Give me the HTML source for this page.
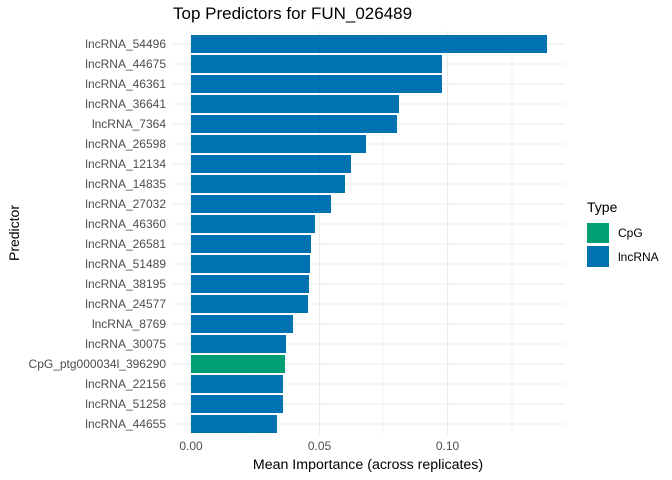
<!DOCTYPE html>
<html><head><meta charset="utf-8"><style>body{margin:0;background:#fff}svg{display:block}text{font-family:"Liberation Sans",sans-serif}</style></head><body>
<svg width="672" height="480" xmlns="http://www.w3.org/2000/svg">
<rect width="672" height="480" fill="#fff"/>
<g stroke="#ebebeb" stroke-width="0.6">
<line x1="255" y1="31" x2="255" y2="434"/><line x1="383" y1="31" x2="383" y2="434"/><line x1="512" y1="31" x2="512" y2="434"/>
</g>
<g stroke="#ebebeb" stroke-width="1.1">
<line x1="191" y1="31" x2="191" y2="434"/><line x1="319.5" y1="31" x2="319.5" y2="434"/><line x1="447.5" y1="31" x2="447.5" y2="434"/>
<line x1="173" y1="44" x2="565" y2="44"/><line x1="173" y1="64" x2="565" y2="64"/><line x1="173" y1="84" x2="565" y2="84"/><line x1="173" y1="104" x2="565" y2="104"/><line x1="173" y1="124" x2="565" y2="124"/><line x1="173" y1="144" x2="565" y2="144"/><line x1="173" y1="164" x2="565" y2="164"/><line x1="173" y1="184" x2="565" y2="184"/><line x1="173" y1="204" x2="565" y2="204"/><line x1="173" y1="224" x2="565" y2="224"/><line x1="173" y1="244" x2="565" y2="244"/><line x1="173" y1="264" x2="565" y2="264"/><line x1="173" y1="284" x2="565" y2="284"/><line x1="173" y1="304" x2="565" y2="304"/><line x1="173" y1="324" x2="565" y2="324"/><line x1="173" y1="344" x2="565" y2="344"/><line x1="173" y1="364" x2="565" y2="364"/><line x1="173" y1="384" x2="565" y2="384"/><line x1="173" y1="404" x2="565" y2="404"/><line x1="173" y1="424" x2="565" y2="424"/>
</g>
<g fill="#0072b2">
<rect x="191" y="35" width="356" height="18"/>
<rect x="191" y="55" width="251" height="18"/>
<rect x="191" y="75" width="251" height="18"/>
<rect x="191" y="95" width="208" height="18"/>
<rect x="191" y="115" width="206" height="18"/>
<rect x="191" y="135" width="175" height="18"/>
<rect x="191" y="155" width="160" height="18"/>
<rect x="191" y="175" width="154" height="18"/>
<rect x="191" y="195" width="140" height="18"/>
<rect x="191" y="215" width="124" height="18"/>
<rect x="191" y="235" width="120" height="18"/>
<rect x="191" y="255" width="119" height="18"/>
<rect x="191" y="275" width="118" height="18"/>
<rect x="191" y="295" width="117" height="18"/>
<rect x="191" y="315" width="102" height="18"/>
<rect x="191" y="335" width="95" height="18"/>
<rect x="191" y="355" width="94" height="18" fill="#009e73"/>
<rect x="191" y="375" width="92" height="18"/>
<rect x="191" y="395" width="92" height="18"/>
<rect x="191" y="415" width="86" height="18"/>
</g>
<g font-size="12" fill="#4d4d4d" text-anchor="end">
<text x="166" y="48">lncRNA_54496</text>
<text x="166" y="68">lncRNA_44675</text>
<text x="166" y="88">lncRNA_46361</text>
<text x="166" y="108">lncRNA_36641</text>
<text x="166" y="128">lncRNA_7364</text>
<text x="166" y="148">lncRNA_26598</text>
<text x="166" y="168">lncRNA_12134</text>
<text x="166" y="188">lncRNA_14835</text>
<text x="166" y="208">lncRNA_27032</text>
<text x="166" y="228">lncRNA_46360</text>
<text x="166" y="248">lncRNA_26581</text>
<text x="166" y="268">lncRNA_51489</text>
<text x="166" y="288">lncRNA_38195</text>
<text x="166" y="308">lncRNA_24577</text>
<text x="166" y="328">lncRNA_8769</text>
<text x="166" y="348">lncRNA_30075</text>
<text x="166" y="368">CpG_ptg000034l_396290</text>
<text x="166" y="388">lncRNA_22156</text>
<text x="166" y="408">lncRNA_51258</text>
<text x="166" y="428">lncRNA_44655</text>
</g>
<text x="173" y="19" font-size="17" fill="#000">Top Predictors for FUN_026489</text>
<g font-size="12" fill="#4d4d4d" text-anchor="middle">
<text x="191" y="450">0.00</text><text x="319.5" y="450">0.05</text><text x="447.5" y="450">0.10</text>
</g>
<text x="368" y="469" font-size="14.2" text-anchor="middle" fill="#000">Mean Importance (across replicates)</text>
<text transform="translate(19,233) rotate(-90)" font-size="14" text-anchor="middle" fill="#000">Predictor</text>
<text x="587" y="212" font-size="14" fill="#000">Type</text>
<rect x="587" y="223" width="22" height="20" fill="#009e73"/>
<rect x="587" y="246" width="22" height="21" fill="#0072b2"/>
<text x="618" y="237" font-size="12" fill="#000">CpG</text>
<text x="618" y="261" font-size="12" fill="#000">lncRNA</text>
</svg>
</body></html>
